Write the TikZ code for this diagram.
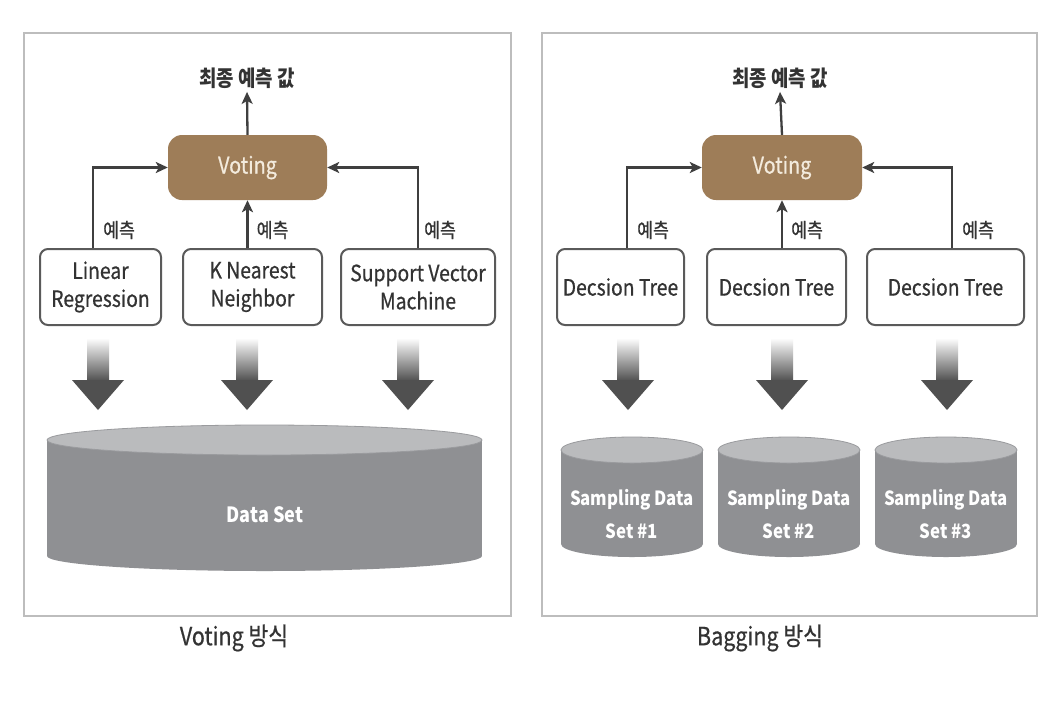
\documentclass[tikz,border=0pt]{standalone}
\usepackage{fontspec}
\setmainfont{Noto Sans CJK KR}[FakeStretch=0.86]
\newfontfamily\medfont{Noto Sans CJK KR}[FakeStretch=0.86,FakeBold=0.6]
\usetikzlibrary{calc,arrows.meta}
\definecolor{framec}{HTML}{BDBDBD}
\definecolor{boxline}{HTML}{5A5A5A}
\definecolor{connc}{HTML}{3F3F3F}
\definecolor{votefill}{HTML}{9E7D58}
\definecolor{votetext}{HTML}{F3EBDD}
\definecolor{cylbody}{HTML}{8F9093}
\definecolor{cyltop}{HTML}{BABBBD}
\definecolor{cylline}{HTML}{9A9B9E}
\definecolor{bigarrow}{HTML}{505050}
\definecolor{txt}{HTML}{333333}
\begin{document}
\begin{tikzpicture}[x=1pt,y=-1pt,
  panel/.style={draw=framec,line width=1.4pt},
  model/.style={draw=boxline,line width=2pt,rounded corners=8pt,fill=white,inner sep=0pt,minimum height=76pt,align=center,font=\medfont\fontsize{22.5}{28}\selectfont,text=txt},
  votebox/.style={fill=votefill,rounded corners=14pt,minimum width=159pt,minimum height=65pt,inner sep=0pt,font=\medfont\fontsize{23}{24}\selectfont,text=votetext},
  conn/.style={draw=connc,line width=2.3pt,-{Stealth[length=12pt,width=11pt,inset=3pt]}},
  pred/.style={font=\medfont\fontsize{20}{22}\selectfont,text=txt,anchor=west,inner sep=0pt},
  ttl/.style={font=\bfseries\fontsize{22}{24}\selectfont,text=txt},
  capt/.style={font=\medfont\fontsize{25}{28}\selectfont,text=txt},
  cyltext/.style={font=\bfseries\fontsize{19.5}{33}\selectfont,text=white,align=center}
]
\useasboundingbox (0,0) rectangle (1060,724);
\fill[white] (0,0) rectangle (1060,724);

% panels
\draw[panel] (24,33) rectangle (511,616);
\draw[panel] (542,33) rectangle (1037,616);

% ---------- left panel ----------
\node[ttl] (final1) at (247,78) {최종 예측 값};
\node[votebox] (vote1) at (247.5,167.5) {Voting};
\node[model,minimum width=121pt] (lr) at (100.5,287) {Linear\\Regression};
\node[model,minimum width=139pt] (knn) at (252.5,287) {K Nearest\\Neighbor};
\node[model,minimum width=154pt] (svm) at (418,287) {Support Vector\\Machine};

\draw[conn] (vote1.north) -- (final1.south);
\draw[conn] ($(lr.north)+(-7.5,0)$) coordinate (lr1) |- (vote1.west);
\draw[conn] (knn.north -| vote1.south) coordinate (knn1) -- (vote1.south);
\draw[conn] (svm.north) |- (vote1.east);
\node[pred] (p1) at ($(lr1)+(10,-18)$) {예측};
\node[pred] (p2) at ($(knn1)+(9,-18)$) {예측};
\node[pred] (p3) at ($(svm.north)+(6,-18)$) {예측};

% ---------- right panel ----------
\node[ttl] (final2) at (780,78) {최종 예측 값};
\node[votebox,minimum width=160pt] (vote2) at (782,167.5) {Voting};
\node[model,minimum width=127pt] (dt1) at (620.5,287) {Decsion Tree};
\node[model,minimum width=139pt] (dt2) at (776.5,287) {Decsion Tree};
\node[model,minimum width=157pt] (dt3) at (945.5,287) {Decsion Tree};

\draw[conn] (vote2.north) -- (final2.south);
\draw[conn] ($(dt1.north)+(6.5,0)$) coordinate (dt1a) |- (vote2.west);
\draw[conn] (dt2.north -| vote2.south) coordinate (dt2a) -- (vote2.south);
\draw[conn] ($(dt3.north)+(6.5,0)$) coordinate (dt3a) |- (vote2.east);
\node[pred] (p4) at ($(dt1a)+(10,-18)$) {예측};
\node[pred] (p5) at ($(dt2a)+(9,-18)$) {예측};
\node[pred] (p6) at ($(dt3a)+(10,-18)$) {예측};

% ---------- big arrows ----------
\foreach \x in {98,247,408,628,782,947}{
  \shade[top color=white,bottom color=bigarrow] (\x-11,338) rectangle (\x+11,381);
  \fill[bigarrow] (\x-26,380) -- (\x+26,380) -- (\x,410) -- cycle;
}

% ---------- cylinders ----------
\fill[cylbody] (47,440) rectangle (482,556);
\fill[cylbody] (264.5,556) ellipse [x radius=217.5, y radius=15];
\filldraw[fill=cyltop,draw=cylline,line width=0.8pt] (264.5,440) ellipse [x radius=217.5, y radius=15];
\node[cyltext,font=\bfseries\fontsize{21}{24}\selectfont] (ds) at (265,515) {Data Set};

\foreach \cx/\n in {632/1,789/2,946/3}{
  \fill[cylbody] (\cx-71,450) rectangle (\cx+71,544);
  \fill[cylbody] (\cx,544) ellipse [x radius=71, y radius=13];
  \filldraw[fill=cyltop,draw=cylline,line width=0.8pt] (\cx,450) ellipse [x radius=71, y radius=13];
  \node[cyltext] (sd\n) at (\cx,514) {Sampling Data\\Set \#\n};
}

% captions
\node[capt] (cap1) at (234,638) {Voting 방식};
\node[capt] (cap2) at (760,638) {Bagging 방식};
\end{tikzpicture}
\end{document}
